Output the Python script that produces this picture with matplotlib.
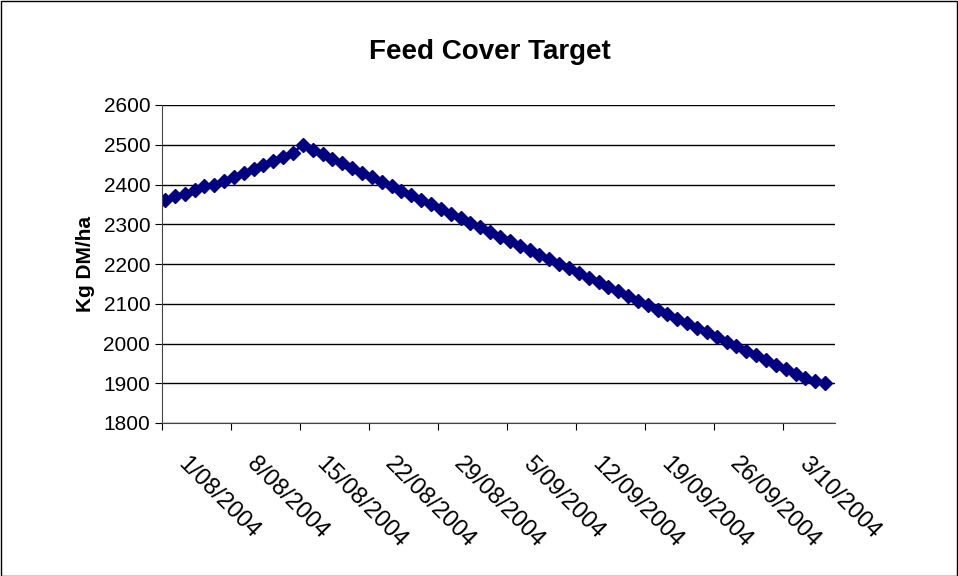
import matplotlib
matplotlib.use("Agg")
import matplotlib.pyplot as plt
import matplotlib.transforms as mtransforms
import numpy as np
import datetime as dt

plt.rcParams['font.family'] = ['Liberation Sans', 'DejaVu Sans']

start = dt.date(2004, 8, 1)
cover = [2362, 2372, 2375, 2385, 2395, 2400, 2410, 2420, 2430, 2440,
         2450, 2460, 2470, 2480, 2500,
         2488, 2476, 2465, 2453, 2442, 2430, 2419, 2407, 2396, 2384,
         2373, 2361, 2350, 2338, 2327, 2315, 2304, 2292, 2281, 2269,
         2258, 2246, 2235, 2223, 2212, 2200, 2189, 2177, 2166, 2154,
         2143, 2131, 2120, 2108, 2097, 2085, 2074, 2062, 2051, 2039,
         2028, 2016, 2005, 1993, 1982, 1970, 1959, 1947, 1936, 1924,
         1913, 1905, 1900]
tick_days = list(range(0, 70, 7))
tick_labels = [(start + dt.timedelta(days=d)).strftime("%d/%m/%Y").lstrip("0") for d in tick_days]

W, H = 958, 576
fig = plt.figure(figsize=(W / 100, H / 100), dpi=100)
ax = fig.add_axes([162 / W, 1 - 423 / H, (835 - 162) / W, (423 - 105) / H])

x = np.arange(len(cover)) + 0.3
ax.plot(x, cover, color='#000080', marker='D', markersize=7, linewidth=2)

ax.set_xlim(0, 68.3)
ax.set_ylim(1800, 2600)
ax.set_yticks(range(1800, 2601, 100))
ax.yaxis.grid(True, color='black', linewidth=1)
ax.set_xticks(tick_days)
ax.set_xticklabels([])
# rotated date labels, offset to the right of each tick
trans = ax.get_xaxis_transform() + mtransforms.ScaledTranslation(27 / 100, -30 / 100, fig.dpi_scale_trans)
for d, lab in zip(tick_days, tick_labels):
    ax.text(d, 0, lab, transform=trans, rotation=-45, ha='left', va='top',
            rotation_mode='anchor', fontsize=17, clip_on=False)
ax.tick_params(axis='y', labelsize=15, direction='out', length=5)
ax.tick_params(axis='x', direction='out', length=5)
for s in ['top', 'right']:
    ax.spines[s].set_visible(False)
for s in ['left', 'bottom']:
    ax.spines[s].set_color('#444444')
ax.set_ylabel("Kg DM/ha", fontsize=15, fontweight='bold', labelpad=6)
fig.text(490 / W, 1 - 52 / H, "Feed Cover Target", fontsize=20, fontweight='bold', ha='center', va='center')

fig.add_artist(plt.Rectangle((0.5 / W, 0.5 / H), 1 - 1.5 / W, 1 - 1.5 / H, transform=fig.transFigure,
                             fill=False, edgecolor='black', linewidth=1))
fig.savefig("out.png", dpi=100)
